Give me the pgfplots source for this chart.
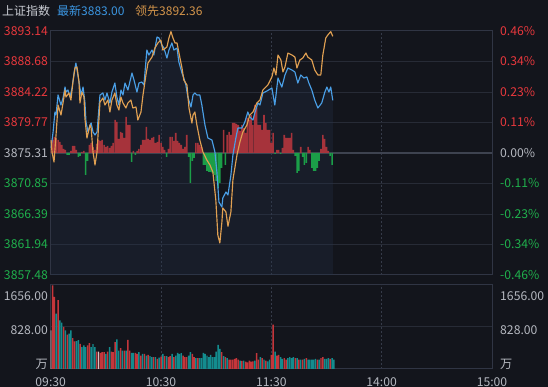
\documentclass[border=0pt]{standalone}
\usepackage{pgfplots}
\usepackage{pgfplotstable}
\pgfplotsset{compat=1.18}
\usepackage{fontspec}
\setmainfont{Noto Sans CJK SC}
\definecolor{bg}{HTML}{13151C}
\definecolor{gridc}{HTML}{272B36}
\definecolor{borderc}{HTML}{303544}
\definecolor{vdash}{HTML}{363B49}
\definecolor{noon}{HTML}{474D5E}
\definecolor{zeroc}{HTML}{3E4350}
\definecolor{upc}{HTML}{E8383D}
\definecolor{dnc}{HTML}{1FB04C}
\definecolor{neu}{HTML}{B5B8C0}
\definecolor{bluel}{HTML}{4A9FE6}
\definecolor{orgl}{HTML}{E0A052}
\definecolor{areac}{HTML}{24324A}
\definecolor{redbar}{HTML}{AE353C}
\definecolor{grnbar}{HTML}{1B9E48}
\definecolor{volr}{HTML}{C4363B}
\definecolor{volt}{HTML}{138C8E}
\definecolor{volw}{HTML}{D9C4C4}
\definecolor{hdr}{HTML}{C9CCD3}
\definecolor{hblue}{HTML}{3B95E0}
\definecolor{horg}{HTML}{D3944A}
\newcommand{\lblfont}{\fontsize{12.2}{14}\selectfont}

% latest price (blue)
\pgfplotstableread{
t p
0.2 3876.04
1.3 3878.38
2.3 3881.30
2.9 3880.86
4.0 3883.79
5.6 3882.32
6.7 3883.35
7.8 3884.95
8.3 3884.22
9.4 3884.52
10.5 3883.49
11.6 3884.81
12.7 3887.00
13.7 3888.46
14.8 3886.71
15.9 3884.81
16.5 3883.79
17.6 3884.95
18.6 3882.76
19.2 3879.84
20.3 3878.38
21.4 3879.40
22.0 3879.69
23.0 3878.38
24.1 3877.94
25.2 3878.38
26.8 3883.79
28.4 3884.08
29.5 3883.05
30.6 3884.08
32.2 3882.62
33.3 3884.22
34.9 3885.54
36.0 3883.49
37.1 3882.32
38.2 3884.52
39.3 3883.79
40.4 3885.54
42.0 3884.52
44.2 3887.00
45.3 3885.98
46.9 3884.22
48.0 3885.54
49.6 3885.69
50.7 3885.25
52.3 3890.36
53.4 3889.63
55.1 3890.36
56.1 3889.63
57.8 3892.26
58.9 3892.12
60.5 3891.09
61.6 3890.65
63.2 3889.19
64.3 3890.36
65.9 3891.39
67.0 3890.36
68.7 3890.65
69.7 3888.61
71.4 3887.00
72.4 3886.27
73.5 3885.25
74.6 3883.49
76.3 3882.03
77.4 3883.79
78.4 3884.08
79.5 3883.79
81.1 3883.79
82.2 3882.32
83.9 3879.40
85.5 3877.50
87.7 3877.21
89.3 3875.46
90.4 3872.53
91.5 3868.15
93.1 3867.42
93.6 3868.73
95.3 3869.61
96.4 3869.17
98.0 3872.09
99.1 3875.02
100.7 3877.50
101.8 3878.96
104.0 3878.96
105.6 3879.84
107.2 3881.30
108.3 3880.57
110.0 3880.13
111.0 3881.16
112.7 3882.62
113.8 3882.32
115.4 3884.08
116.5 3884.22
117.6 3884.37
120.3 3884.81
121.9 3882.32
123.6 3886.27
125.7 3884.95
127.4 3886.71
129.0 3887.73
131.2 3887.44
132.8 3887.15
134.4 3885.54
136.0 3886.71
137.7 3886.27
139.3 3886.42
140.4 3885.54
142.0 3884.52
143.6 3883.05
145.3 3881.89
147.4 3882.62
149.1 3884.22
150.2 3884.95
151.3 3884.22
152.3 3884.95
153.4 3883.00
}\bluedata

% leading index (orange)
\pgfplotstableread{
t p
0.2 3877.21
0.7 3875.46
1.8 3873.99
2.9 3877.94
4.0 3882.32
5.6 3880.86
6.7 3882.62
7.8 3884.52
8.3 3883.49
9.9 3884.08
11.0 3883.05
12.1 3885.69
13.2 3887.73
14.3 3887.88
15.4 3885.69
15.9 3882.62
17.0 3884.22
18.1 3883.49
18.6 3880.42
19.7 3877.50
21.4 3879.40
22.0 3878.96
23.0 3875.46
24.1 3873.56
25.2 3875.46
26.8 3882.76
28.4 3883.35
29.5 3882.32
31.1 3883.05
32.2 3881.30
33.3 3883.05
34.9 3884.08
36.0 3882.32
37.1 3881.59
38.2 3883.49
39.3 3882.62
40.9 3881.89
42.0 3882.62
43.6 3883.05
44.7 3881.89
46.4 3882.03
47.4 3880.13
49.1 3881.30
50.2 3883.79
51.8 3886.71
52.9 3888.46
55.1 3889.34
56.7 3890.65
58.3 3891.39
59.9 3891.82
61.0 3890.36
63.2 3890.80
64.3 3892.12
65.4 3893.05
66.5 3892.12
67.6 3891.39
68.7 3891.39
70.3 3889.19
71.4 3887.73
72.4 3885.98
74.1 3885.25
75.2 3881.89
76.8 3879.69
77.4 3880.86
78.4 3881.30
79.5 3879.40
81.1 3877.21
82.8 3875.46
84.9 3874.29
86.6 3873.56
88.2 3872.53
89.8 3868.44
90.9 3863.30
92.0 3862.16
93.1 3865.20
93.6 3867.27
95.3 3866.69
96.4 3864.60
98.0 3866.69
99.1 3871.40
101.3 3875.02
102.9 3876.92
104.5 3878.38
106.7 3879.40
108.3 3880.86
110.0 3881.30
112.1 3882.62
113.8 3883.05
115.4 3884.52
116.5 3884.81
118.1 3885.25
120.3 3886.42
121.4 3887.73
122.5 3886.71
123.6 3889.63
125.2 3888.90
126.3 3887.15
127.4 3887.88
129.0 3889.92
131.2 3889.63
132.8 3889.34
133.9 3887.73
135.5 3888.90
137.1 3889.19
138.8 3889.92
139.8 3889.34
142.0 3888.90
143.6 3887.44
145.3 3886.71
146.9 3886.71
148.0 3889.63
149.6 3892.12
150.7 3892.55
152.3 3893.05
153.4 3892.36
}\orangedata

% buy/sell strength bars
\pgfplotstableread{
t v
0 6
1 13
2 16
3 15
4 13
5 11
6 8
7 4
8 3
9 -2
10 -2
11 2
12 7
13 7
14 3
15 -4
16 -3
17 1
18 2
19 -22
20 -8
21 8
22 10
23 6
24 3
25 9
26 13
27 12
28 13
29 8
30 6
31 7
32 5
33 7
34 10
35 33
36 31
37 14
38 21
39 20
40 15
41 36
42 28
43 28
44 -9
45 2
46 -2
47 2
48 4
49 8
50 13
51 13
52 26
53 14
54 13
55 15
56 16
57 10
58 11
59 18
60 10
61 6
62 3
63 -4
64 4
65 16
66 16
67 12
68 20
69 12
70 10
71 8
72 4
73 6
74 18
75 -4
76 -30
77 -8
78 -5
79 10
80 10
81 8
82 6
83 -12
84 -12
85 -18
86 -19
87 -19
88 -20
89 -22
90 -28
91 -35
92 -30
93 -15
94 23
95 -12
96 18
97 21
98 18
99 30
100 30
101 29
102 28
103 22
104 28
105 25
106 20
107 35
108 33
109 38
110 28
111 48
112 45
113 28
114 28
115 23
116 38
117 30
118 23
119 23
120 10
121 20
122 -1
123 3
124 3
125 -1
126 5
127 18
128 15
129 15
130 15
131 20
132 3
133 -3
134 -20
135 -18
136 6
137 -4
138 -12
139 -10
140 6
141 3
142 -15
143 -18
144 -18
145 -15
146 -8
147 4
148 18
149 14
150 6
151 2
152 -3
153 -12
}\strength

% volume (up minutes, red)
\pgfplotstableread{
t v
1 1650
2 1424
4 1358
7 828
9 676
12 609
13 543
16 497
20 464
21 510
25 344
27 318
28 331
29 331
31 344
33 344
34 331
35 530
38 411
40 364
42 576
43 364
46 318
47 298
49 265
51 298
53 278
56 232
58 199
60 245
62 252
64 232
65 252
67 232
72 265
73 232
74 232
77 298
78 232
80 212
93 331
95 232
97 185
98 185
99 185
100 199
101 212
102 185
104 159
106 146
107 132
108 166
109 146
110 152
112 311
113 185
115 212
117 166
120 278
121 874
123 265
124 278
127 212
128 185
133 212
135 185
137 185
139 212
145 185
147 212
148 232
152 199
}\volred

% volume (down minutes, teal)
\pgfplotstableread{
t v
3 1093
5 960
6 914
8 762
10 696
11 762
14 550
15 570
17 430
18 464
19 430
22 430
23 490
24 430
30 298
32 430
36 583
37 364
39 364
41 364
44 318
45 318
48 331
50 298
52 265
54 252
55 232
57 232
59 225
61 298
63 252
66 298
68 265
69 318
70 298
71 311
75 265
76 331
79 212
81 212
82 212
83 318
84 298
85 265
86 232
87 278
88 232
89 232
90 344
91 477
92 397
94 252
96 212
103 166
105 166
111 166
114 232
116 185
118 152
119 185
122 344
125 232
126 199
129 212
130 232
131 212
132 232
134 212
136 185
138 199
140 185
141 185
142 185
143 185
144 199
146 185
149 199
150 199
151 212
153 212
154 185
}\volteal

% volume (flat minutes)
\pgfplotstableread{
t v
0 762
26 344
}\volflat

\pgfplotsset{
  panel/.style={scale only axis, width=441.3pt, xmin=0, xmax=240,
    anchor=south west, major tick length=0pt, minor tick num=0,
    every tick label/.append style={font=\lblfont}},
}

\begin{document}
\begin{tikzpicture}
\fill[bg] (0,0) rectangle (548pt,387pt);

% header
\begin{scope}[every node/.style={anchor=west, inner sep=0pt, font=\fontsize{12}{14}\selectfont}]
\node[text=hdr] at (2pt,376pt) {上证指数};
\node[text=hblue] at (57pt,376pt) {最新3883.00};
\node[text=horg] at (135pt,376pt) {领先3892.36};
\end{scope}

% ---------- price panel: grid, labels, area ----------
\begin{axis}[panel, at={(50.7pt,112pt)}, height=244pt,
  ymin=3857.48, ymax=3893.14,
  axis line style={draw=borderc, line width=1pt},
  ytick={3857.48,3861.94,3866.39,3870.85,3875.31,3879.77,3884.22,3888.68,3893.14},
  yticklabels={\textcolor{dnc}{3857.48},\textcolor{dnc}{3861.94},\textcolor{dnc}{3866.39},\textcolor{dnc}{3870.85},\textcolor{neu}{3875.31},\textcolor{upc}{3879.77},\textcolor{upc}{3884.22},\textcolor{upc}{3888.68},\textcolor{upc}{3893.14}},
  yticklabel style={anchor=east, inner sep=0pt, xshift=-2.5pt},
  ymajorgrids, y grid style={gridc, line width=1pt},
  xtick={60,180}, xticklabels={}, xmajorgrids,
  x grid style={vdash, line width=1pt, dash pattern=on 2pt off 2pt},
  extra x ticks={120}, extra x tick labels={},
  extra x tick style={grid style={noon, line width=2pt, solid}},
]
\addplot[fill=areac, fill opacity=0.3, draw=none] table[x=t, y=p] {\bluedata}
  -- (axis cs:153.4,3857.48) -- (axis cs:0.2,3857.48) -- cycle;
\addplot[zeroc, line width=1.4pt] coordinates {(0,3875.31) (240,3875.31)};
\end{axis}

% ---------- strength bars ----------
\begin{axis}[panel, at={(50.7pt,112pt)}, height=244pt, hide axis,
  ymin=-122, ymax=122, ybar, bar width=1.55pt, bar shift=0pt]
\addplot[fill=redbar, draw=none, fill opacity=0.95, restrict y to domain=0:200] table[x=t, y=v] {\strength};
\addplot[fill=grnbar, draw=none, restrict y to domain=-200:0] table[x=t, y=v] {\strength};
\end{axis}

% ---------- price lines + right labels ----------
\begin{axis}[panel, at={(50.7pt,112pt)}, height=244pt,
  ymin=3857.48, ymax=3893.14,
  axis y line*=right, hide x axis, axis line style={draw=none},
  ytick={3857.48,3861.94,3866.39,3870.85,3875.31,3879.77,3884.22,3888.68,3893.14},
  yticklabels={\textcolor{dnc}{-0.46\%},\textcolor{dnc}{-0.34\%},\textcolor{dnc}{-0.23\%},\textcolor{dnc}{-0.11\%},\textcolor{neu}{0.00\%},\textcolor{upc}{0.11\%},\textcolor{upc}{0.23\%},\textcolor{upc}{0.34\%},\textcolor{upc}{0.46\%}},
  yticklabel style={anchor=west, inner sep=0pt, xshift=8pt},
]
\addplot[bluel, line width=1.15pt, line join=round] table[x=t, y=p] {\bluedata};
\addplot[orgl, line width=1.15pt, line join=round] table[x=t, y=p] {\orangedata};
\end{axis}

% ---------- volume panel ----------
\begin{axis}[panel, at={(50.7pt,18pt)}, height=84pt,
  ymin=0, ymax=1656, ytick={828}, yticklabels={},
  axis line style={draw=borderc, line width=1pt},
  ymajorgrids, y grid style={gridc, line width=1pt},
  xtick={0,60,120,180,240}, xticklabels={09:30,10:30,11:30,14:00,15:00},
  xticklabel style={text=neu, inner sep=0pt, anchor=north, yshift=-8pt},
  xmajorgrids, x grid style={vdash, line width=1pt, dash pattern=on 2pt off 2pt},
  extra x ticks={120}, extra x tick labels={},
  extra x tick style={grid style={noon, line width=2pt, solid}},
  ybar, bar width=1.45pt, bar shift=0pt,
]
\addplot[fill=volr, draw=none] table[x=t, y=v] {\volred};
\addplot[fill=volt, draw=none] table[x=t, y=v] {\volteal};
\addplot[fill=volw, draw=none] table[x=t, y=v] {\volflat};
\end{axis}

% volume axis labels
\begin{scope}[every node/.style={text=neu, inner sep=0pt, font=\lblfont}]
\node[anchor=east] at (48pt,91pt) {1656.00};
\node[anchor=east] at (48pt,57pt) {828.00};
\node[anchor=east] at (48pt,23pt) {万};
\node[anchor=west] at (500pt,91pt) {1656.00};
\node[anchor=west] at (500pt,57pt) {828.00};
\node[anchor=west] at (500pt,23pt) {万};
\end{scope}

\pgfresetboundingbox
\path (0,0) rectangle (548pt,387pt);
\end{tikzpicture}
\end{document}
